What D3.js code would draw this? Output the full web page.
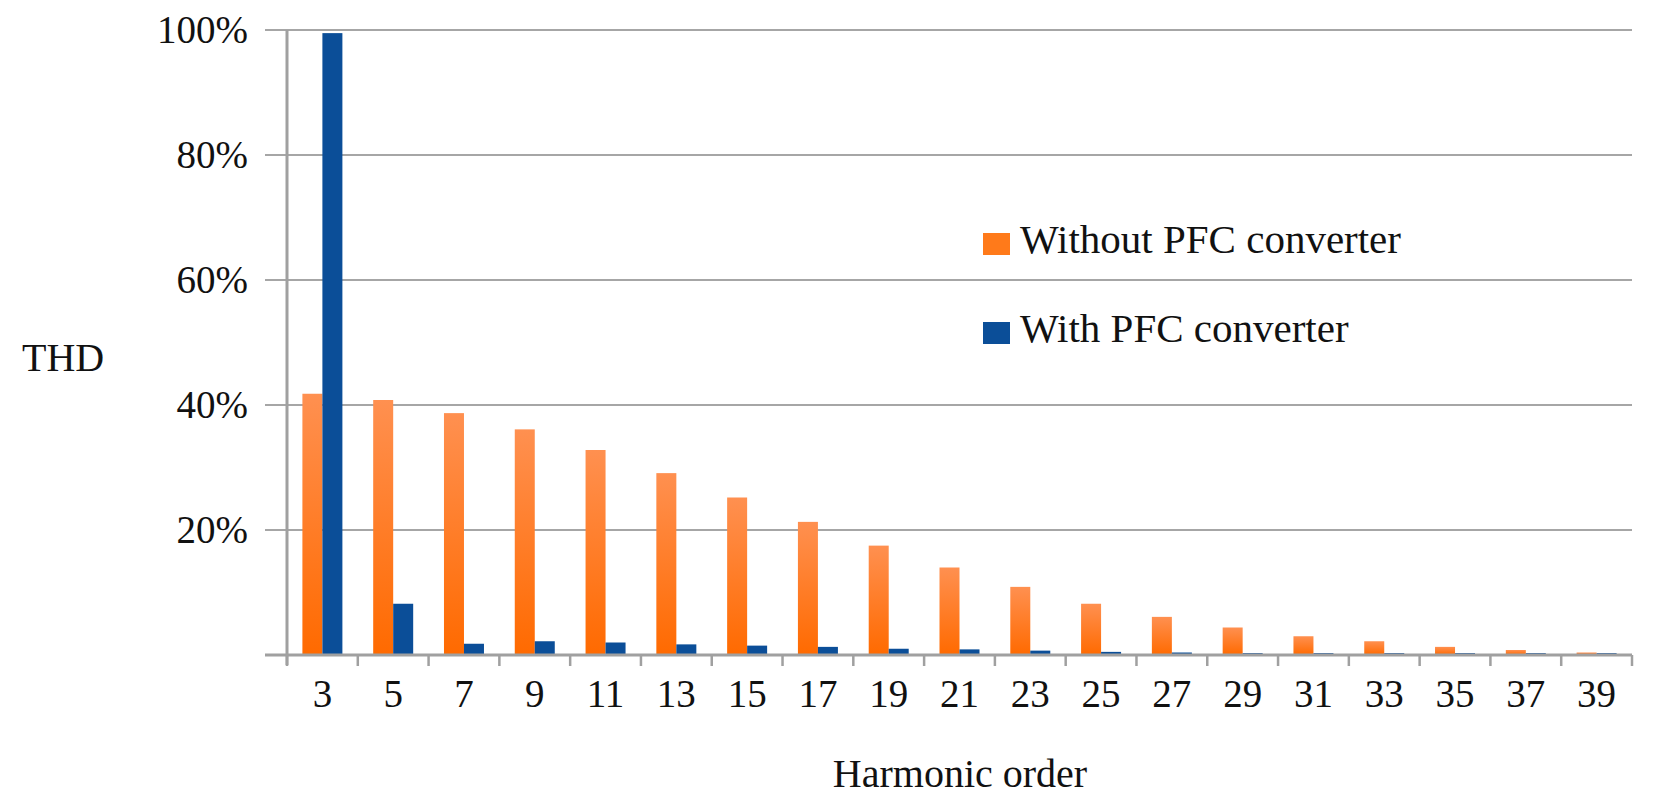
<!DOCTYPE html>
<html><head><meta charset="utf-8">
<script src="https://cdn.jsdelivr.net/npm/d3@7"></script>
<style>body{margin:0;background:#fff}text{font-family:"Liberation Serif","DejaVu Serif",serif;fill:#111}</style>
</head><body><svg id="c" width="1655" height="810"></svg>
<script>
const categories=["3","5","7","9","11","13","15","17","19","21","23","25","27","29","31","33","35","37","39"];
const without=[41.8,40.8,38.7,36.1,32.8,29.1,25.2,21.3,17.5,14.0,10.9,8.2,6.1,4.4,3.0,2.2,1.3,0.8,0.4];
const withPFC=[99.5,8.2,1.8,2.2,2.0,1.7,1.5,1.3,1.0,0.9,0.7,0.5,0.4,0.3,0.3,0.3,0.3,0.3,0.3];
const yTicks=[0,20,40,60,80,100];
const series=[{name:"Without PFC converter",vals:without,fill:"url(#og)"},{name:"With PFC converter",vals:withPFC,fill:"#0b4e98"}];

const svg=d3.select("#c");
const L=287,R=1632,T=30,B=655;
const defs=svg.append("defs");
const g=defs.append("linearGradient").attr("id","og").attr("x1",0).attr("y1",0).attr("x2",0).attr("y2",1);
g.append("stop").attr("offset","0%").attr("stop-color","#ff9050");
g.append("stop").attr("offset","100%").attr("stop-color","#ff6a00");

const x=d3.scaleBand().domain(categories).range([L,R]).paddingInner(0.435).paddingOuter(0.2175);
const x1=d3.scaleBand().domain([0,1]).range([0,x.bandwidth()]);
const y=d3.scaleLinear().domain([0,100]).range([B,T]);

svg.append("g").selectAll("line").data(yTicks.filter(d=>d>0)).join("line")
 .attr("x1",L-22).attr("x2",R).attr("y1",d=>y(d)).attr("y2",d=>y(d)).attr("stroke","#a6a6a6").attr("stroke-width",2);

series.forEach((s,i)=>{
 svg.append("g").selectAll("rect").data(s.vals).join("rect")
  .attr("x",(d,j)=>x(categories[j])+x1(i)).attr("width",x1.bandwidth())
  .attr("y",d=>y(d)).attr("height",d=>B-y(d)).attr("fill",s.fill);
});

// axes
svg.append("line").attr("x1",L).attr("x2",L).attr("y1",T).attr("y2",B+10).attr("stroke","#a0a0a0").attr("stroke-width",3);
svg.append("line").attr("x1",L-22).attr("x2",R).attr("y1",B).attr("y2",B).attr("stroke","#a0a0a0").attr("stroke-width",3);
const step=(R-L)/categories.length;
svg.append("g").selectAll("line").data(d3.range(categories.length+1)).join("line")
 .attr("x1",d=>L+d*step).attr("x2",d=>L+d*step).attr("y1",B).attr("y2",B+11).attr("stroke","#a0a0a0").attr("stroke-width",2.5);

svg.append("g").selectAll("text").data(yTicks.filter(d=>d>0)).join("text")
 .attr("x",248).attr("y",d=>y(d)+13).attr("text-anchor","end").attr("font-size",39).text(d=>d+"%");
svg.append("g").selectAll("text").data(categories).join("text")
 .attr("x",d=>x(d)+x.bandwidth()/2).attr("y",707).attr("text-anchor","middle").attr("font-size",39).text(d=>d);

svg.append("text").attr("x",22).attr("y",371).attr("font-size",40).text("THD");
svg.append("text").attr("x",960).attr("y",787).attr("text-anchor","middle").attr("font-size",40).text("Harmonic order");

series.forEach((s,i)=>{
 const yy=233+i*89;
 svg.append("rect").attr("x",983).attr("y",yy).attr("width",27).attr("height",22).attr("fill",i?s.fill:"#ff7a1a");
 svg.append("text").attr("x",1020).attr("y",yy+20).attr("font-size",41).text(s.name);
});
</script></body></html>
